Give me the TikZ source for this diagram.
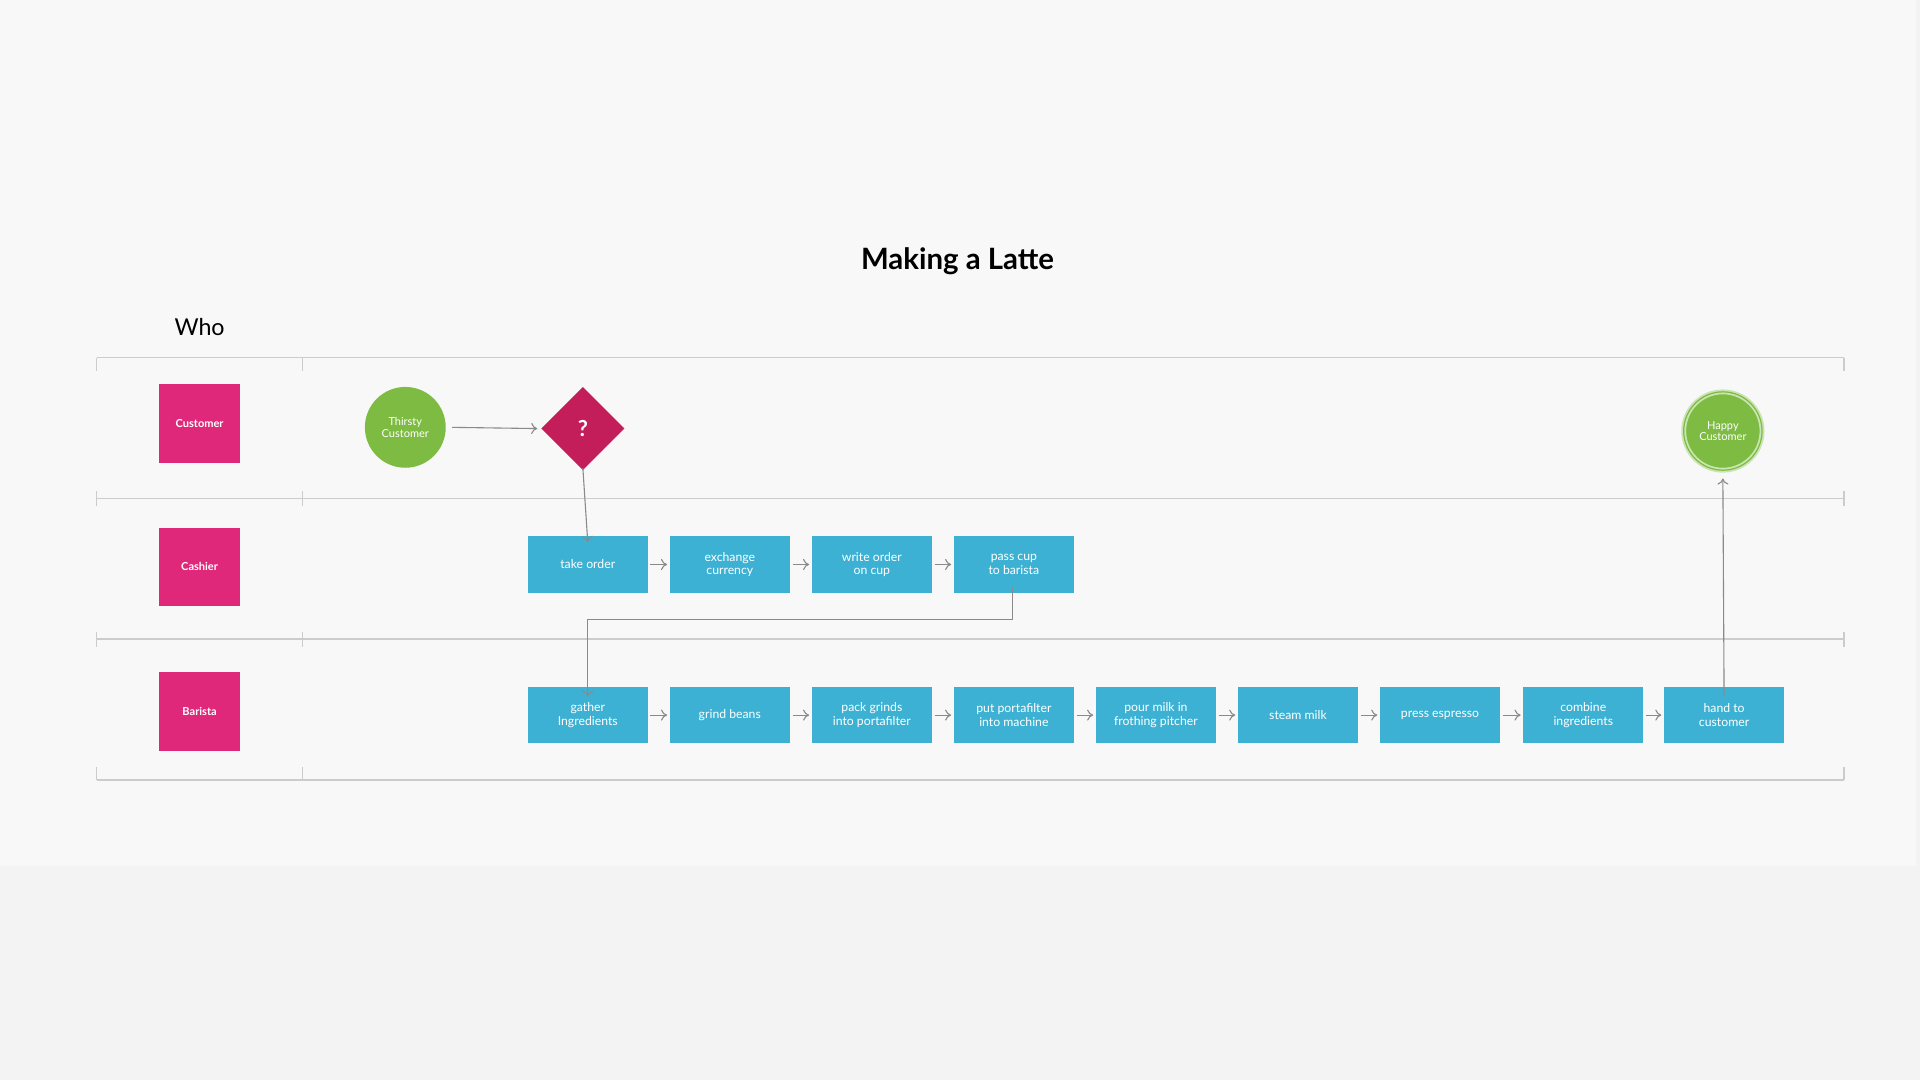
\documentclass[tikz,border=0pt]{standalone}
\usepackage{fontspec}
\setmainfont{Lato}
\usetikzlibrary{shapes.geometric,arrows.meta}
\definecolor{bgpanel}{HTML}{F8F8F8}
\definecolor{bgouter}{HTML}{F3F3F3}
\definecolor{rolepink}{HTML}{E0287A}
\definecolor{stepblue}{HTML}{3DB1D3}
\definecolor{startgreen}{HTML}{7DBB42}
\definecolor{askred}{HTML}{C41E5A}
\definecolor{lanegray}{HTML}{CCCCCC}
\definecolor{flowgray}{HTML}{8A8A8A}
\tikzset{
	role/.style={fill=rolepink, minimum width=66pt, minimum height=64pt, inner sep=0pt, text=white, font=\fontsize{9}{10}\selectfont\bfseries},
	stepbox/.style={fill=stepblue, minimum width=98pt, minimum height=46pt, inner sep=1pt, align=center, text=white, font=\fontsize{10}{11}\selectfont},
	endpoint/.style={circle, fill=startgreen, minimum size=66pt, inner sep=0pt, align=center, text=white, font=\fontsize{9}{9.5}\selectfont},
	flow/.style={draw=flowgray, line width=0.9pt, -{To[length=5pt,width=9pt]}},
	lane/.style={draw=lanegray, line width=1.2pt}
}
\begin{document}
\begin{tikzpicture}[x=1pt,y=-1pt]
	\fill[bgouter] (0,0) rectangle (1568,882);
	\fill[bgpanel] (0,0) rectangle (1565,707);
	\useasboundingbox (0,0) rectangle (1568,882);

	\node[font=\fontsize{24}{26}\selectfont\bfseries] (title) at (782,213) {Making a Latte};
	\node[font=\fontsize{19}{20}\selectfont] (who) at (163,267) {Who};

	% swim lanes
	\foreach \y in {292,407,522,637}
		\draw[lane] (79,\y) -- (1506,\y);
	\foreach \x in {79,247,1506} {
		\draw[lane] (\x,292) -- (\x,303);
		\draw[lane] (\x,401) -- (\x,413);
		\draw[lane] (\x,516) -- (\x,528);
		\draw[lane] (\x,626) -- (\x,637);
	}

	\node[role] (customer) at (163,346) {Customer};
	\node[role] (cashier) at (163,463) {Cashier};
	\node[role] (barista) at (163,581) {Barista};

	% customer row
	\node[endpoint] (thirsty) at (331,349) {Thirsty\\Customer};
	\node[diamond, fill=askred, minimum size=68pt, inner sep=0pt, text=white, font=\fontsize{18}{18}\selectfont\bfseries] (ask) at (476,350) {?};
	\node[endpoint, minimum size=64pt, draw=white!60!startgreen, line width=1.5pt, double=startgreen, double distance=1pt] (happy) at (1407,352) {Happy\\Customer};

	% cashier row
	\node[stepbox] (take) at (480,461) {take order};
	\node[stepbox] (exchange) at (596,461) {exchange\\currency};
	\node[stepbox] (write) at (712,461) {write order\\on cup};
	\node[stepbox] (pass) at (828,461) {pass cup\\to barista};

	% barista row
	\node[stepbox] (gather) at (480,584) {gather\\Ingredients};
	\node[stepbox] (grind) at (596,584) {grind beans};
	\node[stepbox] (pack) at (712,584) {pack grinds\\into portafilter};
	\node[stepbox] (put) at (828,584) {put portafilter\\into machine};
	\node[stepbox] (pour) at (944,584) {pour milk in\\frothing pitcher};
	\node[stepbox] (steam) at (1060,584) {steam milk};
	\node[stepbox] (press) at (1176,584) {press espresso};
	\node[stepbox] (combine) at (1293,584) {combine\\ingredients};
	\node[stepbox] (hand) at (1408,584) {hand to\\customer};

	\draw[flow] (thirsty.east) ++(5,0) -- ([xshift=-3pt]ask.west);
	\draw[flow] ([yshift=2pt]ask.south) -- ([yshift=-5pt]take.north);
	\foreach \a/\b in {take/exchange,exchange/write,write/pass,gather/grind,grind/pack,pack/put,put/pour,pour/steam,steam/press,press/combine,combine/hand}
		\draw[flow] ([xshift=2pt]\a.east) -- ([xshift=-2pt]\b.west);
	\coordinate (turn) at (827,506);
	\draw[flow] ([yshift=5pt]pass.south -| turn) -- (turn) -| ([yshift=-8pt]gather.north);
	\draw[flow] ([yshift=-8pt]hand.north) -- ([yshift=-6pt]happy.south);
\end{tikzpicture}
\end{document}
